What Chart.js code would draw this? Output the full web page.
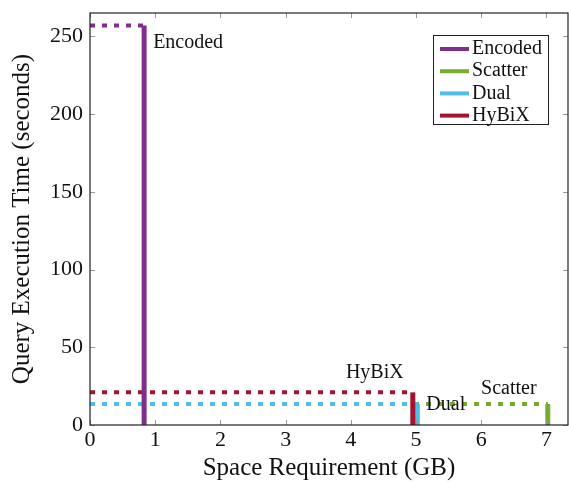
<!DOCTYPE html>
<html>
<head>
<meta charset="utf-8">
<script src="https://cdn.jsdelivr.net/npm/chart.js@4"></script>
<style>
  html, body { margin: 0; padding: 0; background: #fff; }
  #wrap { width: 569px; height: 483px; }
</style>
</head>
<body>
<div id="wrap"><canvas id="c" width="569" height="483"></canvas></div>
<script>
// =========================
// データ
// =========================
const methods = ["Encoded", "Scatter", "Dual", "HyBiX"];
const spaceGB = [0.83, 7.02, 5.02, 4.95];
const timeSec = [257, 13.5, 13.5, 21];
const colors = ["#7e2f8e", "#77ac30", "#4dbeee", "#a2142f"];
const xTicks = [0, 1, 2, 3, 4, 5, 6, 7];
const yTicks = [0, 50, 100, 150, 200, 250];

const FONT = "'Liberation Serif', 'DejaVu Serif', serif";

// 縦線（実線）と横線（点線）を各手法ごとに作る
// order: 小さいほど上に描かれる（縦線を手前に）
const datasets = [];
methods.forEach((m, i) => {
  datasets.push({
    label: m,
    data: [{ x: spaceGB[i], y: 0 }, { x: spaceGB[i], y: timeSec[i] }],
    borderColor: colors[i],
    borderWidth: 5,
    pointRadius: 0,
    borderCapStyle: "butt",
    order: 4 - i,
  });
  datasets.push({
    label: m + "_h",
    data: [{ x: 0, y: timeSec[i] }, { x: spaceGB[i], y: timeSec[i] }],
    borderColor: colors[i],
    borderWidth: 4,
    borderDash: [5, 7],
    pointRadius: 0,
    borderCapStyle: "butt",
    order: 14 - i,
  });
});

// ラベル位置（縦線の上端からのオフセット）
const labelOffsets = {
  Encoded: { dx: 9, dy: 17, align: "left" },
  HyBiX: { dx: -38, dy: -20, align: "center" },
  Dual: { dx: 9, dy: 1, align: "left" },
  Scatter: { dx: -39, dy: -15, align: "center" },
};

// =========================
// 枠・目盛り・ラベル・凡例
// =========================
const decor = {
  id: "decor",
  afterDatasetsDraw(chart) {
    const { ctx, chartArea: a, scales } = chart;
    const xs = scales.x, ys = scales.y;
    ctx.save();

    // 目盛り（内向き）
    ctx.strokeStyle = "#999";
    ctx.lineWidth = 1;
    xTicks.forEach((v) => {
      const px = Math.round(xs.getPixelForValue(v)) + 0.5;
      ctx.beginPath();
      ctx.moveTo(px, a.bottom); ctx.lineTo(px, a.bottom - 5);
      ctx.moveTo(px, a.top); ctx.lineTo(px, a.top + 5);
      ctx.stroke();
    });
    yTicks.forEach((v) => {
      const py = Math.round(ys.getPixelForValue(v)) + 0.5;
      ctx.beginPath();
      ctx.moveTo(a.left, py); ctx.lineTo(a.left + 5, py);
      ctx.moveTo(a.right, py); ctx.lineTo(a.right - 5, py);
      ctx.stroke();
    });

    // 枠
    ctx.strokeStyle = "#222";
    ctx.lineWidth = 1.2;
    ctx.strokeRect(a.left, a.top, a.right - a.left, a.bottom - a.top);

    // 系列ラベル
    ctx.fillStyle = "#111";
    ctx.font = "20px " + FONT;
    ctx.textBaseline = "middle";
    methods.forEach((m, i) => {
      const o = labelOffsets[m];
      const px = xs.getPixelForValue(spaceGB[i]);
      const py = ys.getPixelForValue(timeSec[i]);
      ctx.textAlign = o.align;
      ctx.fillText(m, px + o.dx, py + o.dy);
    });

    // 凡例
    const lx = 433, ly = 35, lw = 115, lh = 89;
    ctx.fillStyle = "#fff";
    ctx.fillRect(lx, ly, lw, lh);
    ctx.strokeStyle = "#222";
    ctx.lineWidth = 1;
    ctx.strokeRect(lx + 0.5, ly + 0.5, lw, lh);
    ctx.textAlign = "left";
    ctx.font = "20px " + FONT;
    methods.forEach((m, i) => {
      const y = ly + 14 + i * 22.2;
      ctx.fillStyle = colors[i];
      ctx.fillRect(lx + 7, y - 2, 29, 4);
      ctx.fillStyle = "#111";
      ctx.fillText(m, lx + 39, y);
    });

    ctx.restore();
  },
};

new Chart(document.getElementById("c"), {
  type: "line",
  data: { datasets },
  options: {
    responsive: false,
    animation: false,
    layout: { padding: { top: 13, right: 1, left: 0, bottom: 0 } },
    plugins: { legend: { display: false }, tooltip: { enabled: false } },
    scales: {
      x: {
        type: "linear",
        min: 0,
        max: 7.33,
        grid: { display: false, tickLength: 0 },
        border: { display: false },
        afterFit: (s) => { s.height = 58; s.paddingLeft = 0; s.paddingRight = 0; },
        ticks: {
          stepSize: 1,
          includeBounds: false,
          color: "#111",
          padding: 2,
          font: { family: FONT, size: 22 },
        },
        title: {
          display: true,
          text: "Space Requirement (GB)",
          color: "#111",
          padding: { top: 0, bottom: 0 },
          font: { family: FONT, size: 25 },
        },
      },
      y: {
        min: 0,
        max: 265,
        grid: { display: false, tickLength: 0 },
        border: { display: false },
        afterFit: (s) => { s.width = 90; s.paddingTop = 0; s.paddingBottom = 0; },
        ticks: {
          stepSize: 50,
          includeBounds: false,
          color: "#111",
          padding: 7,
          font: { family: FONT, size: 22 },
        },
        title: {
          display: true,
          text: "Query Execution Time (seconds)",
          color: "#111",
          padding: { top: 7, bottom: 0 },
          font: { family: FONT, size: 25 },
        },
      },
    },
  },
  plugins: [decor],
});
</script>
</body>
</html>
